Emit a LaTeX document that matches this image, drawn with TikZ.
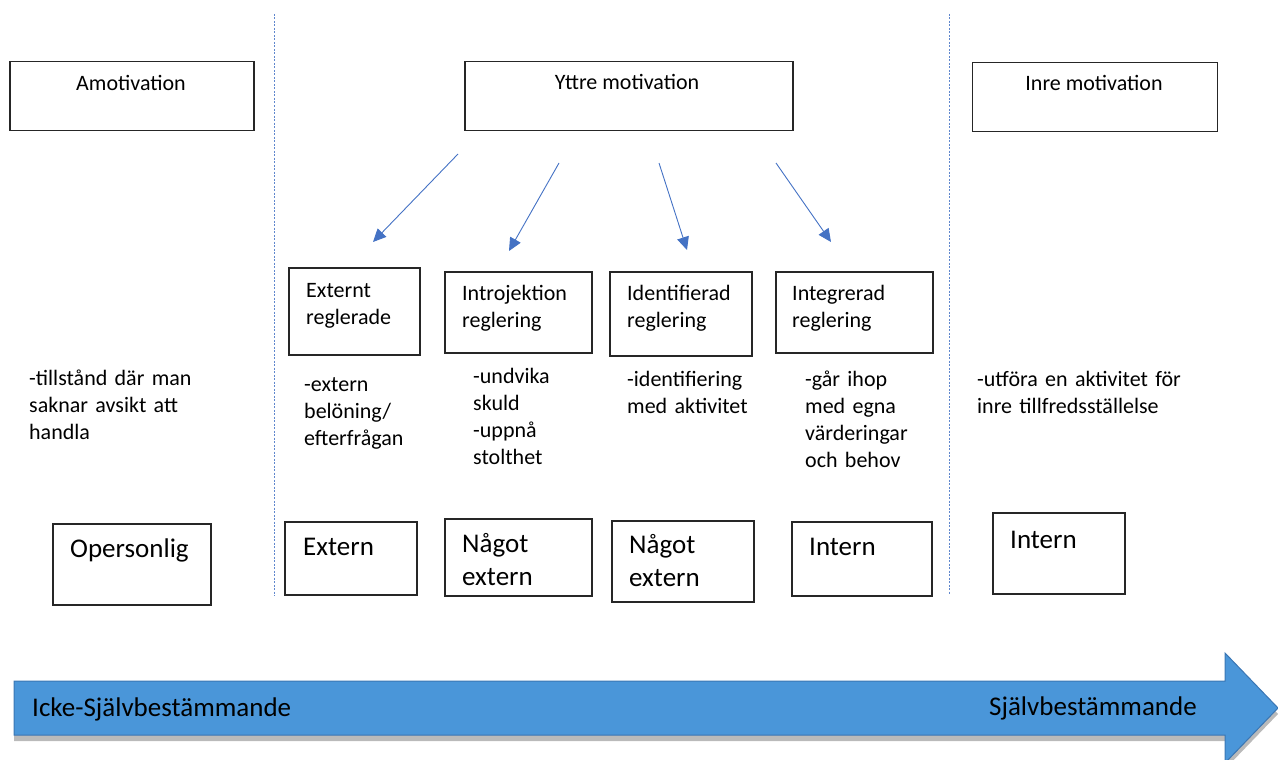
\documentclass[tikz,border=0pt]{standalone}
\usepackage{fontspec}
\setmainfont{Carlito}
\usepackage{xcolor}
\usetikzlibrary{arrows.meta}
\usetikzlibrary{positioning}
\usetikzlibrary{shadows}
\definecolor{arrowblue}{RGB}{68,114,196}
\definecolor{barblue}{RGB}{74,150,217}
\definecolor{barline}{RGB}{58,118,180}

\begin{document}
\begin{tikzpicture}[x=1pt,y=-1pt,
		box/.style 2 args={draw=black!85,line width=1.1pt,minimum width=#1,minimum height=#2,inner sep=0pt},
		lbl/.style={font=\fontsize{22}{27}\selectfont,inner sep=0pt,anchor=base west},
		desc/.style={lbl,align=left,text width=260pt},
		big/.style={font=\fontsize{27}{33}\selectfont,inner sep=0pt,anchor=base west,align=left,text width=150pt},
		pil/.style={arrowblue,line width=0.9pt,-{Triangle[length=13pt,width=12pt]}},
		sep/.style={arrowblue!85,line width=1pt,dash pattern=on 2pt off 1.5pt}]
	\useasboundingbox (0,0) rectangle (1278,760);
	
	% Separators
	\coordinate (s1t) at (274,14);
	\coordinate (s1b) at (274,596);
	\coordinate (s2t) at (949,14);
	\coordinate (s2b) at (949,594);
	\draw[sep] (s1t) -- (s1b);
	\draw[sep] (s2t) -- (s2b);
	
	% Top boxes
	\node[box={244}{69}] (amot) at (132,96) {};
	\node[box={328}{69}] (yttre) at (629,96) {};
	\node[box={245}{69}] (inre) at (1095,97) {};
	\node[lbl,anchor=base] (amottxt) at (131,91) {Amotivation};
	\node[lbl,anchor=base] (yttretxt) at (627,90) {Yttre motivation};
	\node[lbl,anchor=base] (inretxt) at (1094,91) {Inre motivation};
	
	% Regulation boxes
	\node[box={131}{87}] (ext) at (354.5,311.5) {};
	\node[box={147}{81}] (intro) at (518.5,312.5) {};
	\node[box={142}{84}] (ident) at (681,314) {};
	\node[box={157}{81}] (integ) at (854.5,312.5) {};
	\node[desc] (exttxt) at (306,297) {Externt\\reglerade};
	\node[desc] (introtxt) at (462,300) {Introjektion\\reglering};
	\node[desc] (identtxt) at (627,300) {Identifierad\\reglering};
	\node[desc] (integtxt) at (792,300) {Integrerad\\reglering};
	
	% Arrows
	\coordinate (a1s) at (458,154);
	\coordinate (a1e) at (373,242);
	\coordinate (a2s) at (559,163);
	\coordinate (a2e) at (509,251);
	\coordinate (a3s) at (659,163);
	\coordinate (a3e) at (687,250);
	\coordinate (a4s) at (776,163);
	\coordinate (a4e) at (831,242);
	\foreach \i in {1,...,4} {
		\draw[pil] (a\i s) -- (a\i e);
	}
	
	% Descriptions
	\node[desc] (d1) at (29,385) {-tillstånd där man\\saknar avsikt att\\handla};
	\node[desc] (d2) at (304,391) {-extern\\belöning/\\efterfrågan};
	\node[desc] (d3) at (473,383) {-undvika\\skuld\\-uppnå\\stolthet};
	\node[desc] (d4) at (627,386) {-identifiering\\med aktivitet};
	\node[desc] (d5) at (805,386) {-går ihop\\med egna\\värderingar\\och behov};
	\node[desc] (d6) at (977,386) {-utföra en aktivitet för\\inre tillfredsställelse};
	
	% Bottom boxes
	\node[box={158}{81}] (b1) at (132,564.5) {};
	\node[box={132}{73}] (b2) at (351,558.5) {};
	\node[box={147}{77}] (b3) at (518.5,557.5) {};
	\node[box={142}{81}] (b4) at (683,561.5) {};
	\node[box={140}{74}] (b5) at (862,559) {};
	\node[box={132}{81}] (b6) at (1059,553.5) {};
	\node[big] (b1txt) at (70,557) {Opersonlig};
	\node[big] (b2txt) at (303,555) {Extern};
	\node[big] (b3txt) at (462,552) {Något\\extern};
	\node[big] (b4txt) at (629,553) {Något\\extern};
	\node[big] (b5txt) at (809,555) {Intern};
	\node[big] (b6txt) at (1010,548) {Intern};
	
	% Scale arrow
	\draw[fill=barblue,draw=barline,line width=1pt,drop shadow={shadow xshift=0pt,shadow yshift=-6pt,opacity=0.45,fill=black!60}]
		(14,681) -- (1225,681) -- (1225,653) -- (1278,708) -- (1225,763) -- (1225,735) -- (14,735) -- cycle;
	\node[big,text width=,anchor=base west] (left) at (32,716) {Icke-Självbestämmande};
	\node[big,text width=,anchor=base east] (right) at (1197,715) {Självbestämmande};
\end{tikzpicture}
\end{document}
